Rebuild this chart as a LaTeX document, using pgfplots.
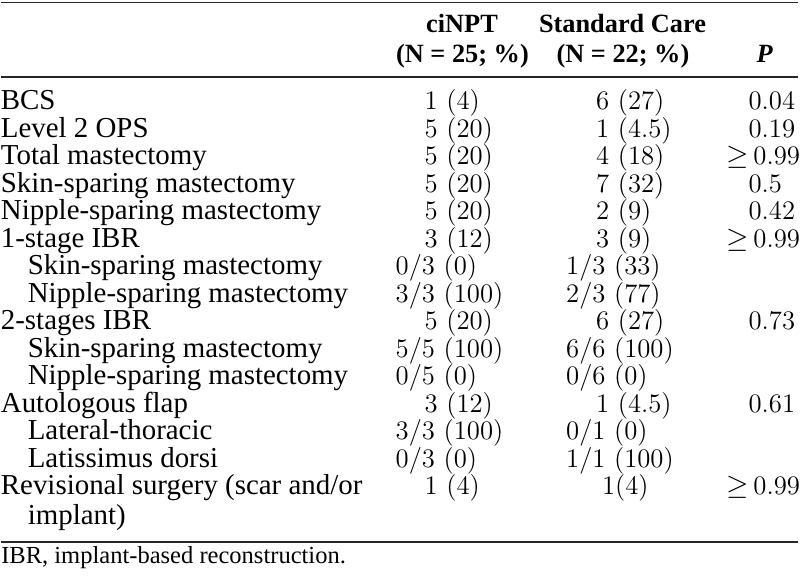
\documentclass[border=0pt]{standalone}
\usepackage{fontspec}
\setmainfont{Liberation Serif}
\newfontfamily\cmfont{Latin Modern Roman}
\usepackage{pgfplots}
\pgfplotsset{compat=1.18}

% sizes (1 px = 0.5 pt)
\newcommand\lblfont{\fontsize{14.5}{17}\selectfont}
\newcommand\numfont{\cmfont\fontsize{13.4}{16}\selectfont}
\newcommand\hdfont{\fontsize{13.2}{16}\selectfont\bfseries}

\pgfplotsset{
  cell/.style={draw=none, mark=none, nodes near coords,
    point meta=explicit symbolic,
    every node near coord/.append style={anchor=base west,
      inner sep=0pt, outer sep=0pt, text=black, #1}},
}

\begin{document}
\begin{tikzpicture}
\begin{axis}[
  hide axis, scale only axis,
  width=400pt, height=290.5pt,
  xmin=0, xmax=800, ymin=0, ymax=581,
  y dir=reverse, clip=false,
]
\path (rel axis cs:0,0) rectangle (rel axis cs:1,1);

% rules
\draw[line width=0.9pt, black!85] (axis cs:0,2.5) -- (axis cs:800,2.5);
\draw[line width=0.9pt, black!85] (axis cs:0,77.5) -- (axis cs:800,77.5);
\draw[line width=0.9pt, black!85] (axis cs:0,543.5) -- (axis cs:800,543.5);

% header
\node[font=\hdfont, anchor=base, inner sep=0pt] at (axis cs:462.5,33) {ciNPT};
\node[font=\hdfont, anchor=base, inner sep=0pt] at (axis cs:463,63) {(N = 25; \%)};
\node[font=\hdfont, anchor=base, inner sep=0pt] at (axis cs:623.5,33) {Standard Care};
\node[font=\hdfont, anchor=base, inner sep=0pt] at (axis cs:624,63) {(N = 22; \%)};
\node[font=\hdfont\itshape, anchor=base, inner sep=0pt] at (axis cs:766,63) {P};

% row labels
\addplot[cell={font=\lblfont}] coordinates {
  (0,110) [BCS]
  (0,137.6) [Level 2 OPS]
  (0,165.2) [Total mastectomy]
  (0,192.8) [Skin-sparing mastectomy]
  (0,220.4) [Nipple-sparing mastectomy]
  (0,248) [1-stage IBR]
  (27,275.6) [Skin-sparing mastectomy]
  (27,303.2) [Nipple-sparing mastectomy]
  (0,330.8) [2-stages IBR]
  (27,358.4) [Skin-sparing mastectomy]
  (27,386) [Nipple-sparing mastectomy]
  (0,413.6) [Autologous flap]
  (27,441.2) [Lateral-thoracic]
  (27,468.8) [Latissimus dorsi]
  (0,496.4) [Revisional surgery (scar and/or]
  (27,526) [implant)]
};

% ciNPT
\addplot[cell={font=\numfont}] coordinates {
  (425,110) [1 (4)]
  (425,137.6) [5 (20)]
  (425,165.2) [5 (20)]
  (425,192.8) [5 (20)]
  (425,220.4) [5 (20)]
  (425,248) [3 (12)]
  (396,275.6) [0/3 (0)]
  (396,303.2) [3/3 (100)]
  (425,330.8) [5 (20)]
  (396,358.4) [5/5 (100)]
  (396,386) [0/5 (0)]
  (425,413.6) [3 (12)]
  (396,441.2) [3/3 (100)]
  (396,468.8) [0/3 (0)]
  (425,496.4) [1 (4)]
};

% Standard Care
\addplot[cell={font=\numfont}] coordinates {
  (597,110) [6 (27)]
  (597,137.6) [1 (4.5)]
  (597,165.2) [4 (18)]
  (597,192.8) [7 (32)]
  (597,220.4) [2 (9)]
  (597,248) [3 (9)]
  (567,275.6) [1/3 (33)]
  (567,303.2) [2/3 (77)]
  (597,330.8) [6 (27)]
  (567,358.4) [6/6 (100)]
  (567,386) [0/6 (0)]
  (597,413.6) [1 (4.5)]
  (567,441.2) [0/1 (0)]
  (567,468.8) [1/1 (100)]
  (603,496.4) [1(4)]
};

% P
\addplot[cell={font=\numfont}] coordinates {
  (750,110) [0.04]
  (750,137.6) [0.19]
  (728,165.2) [$\geq$\,0.99]
  (750,192.8) [0.5]
  (750,220.4) [0.42]
  (728,248) [$\geq$\,0.99]
  (750,330.8) [0.73]
  (750,413.6) [0.61]
  (728,496.4) [$\geq$\,0.99]
};

% footnote
\node[font=\fontsize{12.3}{15}\selectfont, anchor=base west, inner sep=0pt] at (axis cs:0,565) {IBR, implant-based reconstruction.};
\end{axis}
\end{tikzpicture}
\end{document}
